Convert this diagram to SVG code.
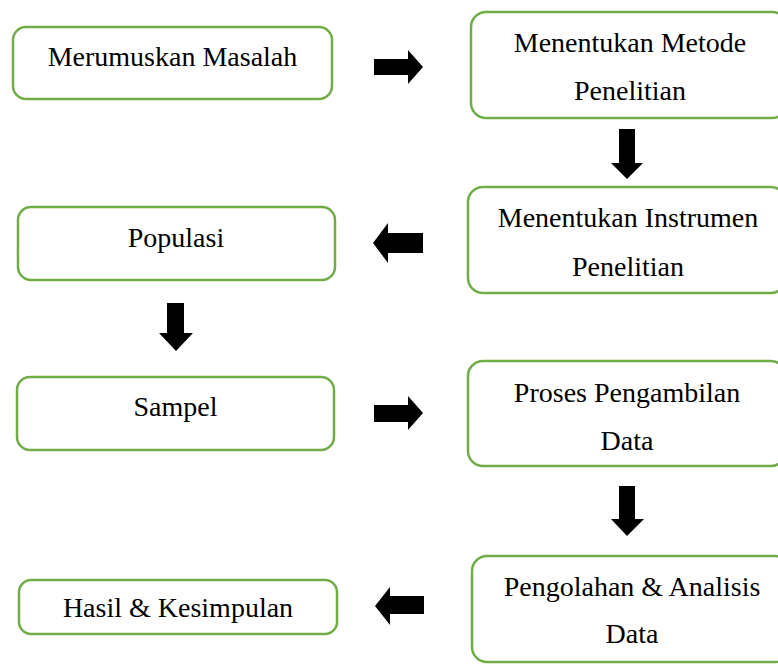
<svg xmlns="http://www.w3.org/2000/svg" width="778" height="664" viewBox="0 0 778 664">
<style>
.box{fill:#ffffff;stroke:#70ad47;stroke-width:2.5}
.t{font-size:28px;fill:#000000;text-anchor:middle}
.arr{fill:#000000}
</style>
<rect width="778" height="664" fill="#ffffff"/>
<g id="n1"><rect class="box" x="13" y="27" width="319" height="72" rx="13"/><text class="t" style="font-family:'Liberation Serif',serif" x="172.5" y="66">Merumuskan Masalah</text></g>
<g id="n2"><rect class="box" x="471" y="12" width="316" height="106" rx="15"/><text class="t" style="font-family:'Liberation Serif',serif" x="630" y="52">Menentukan Metode</text><text class="t" style="font-family:'Liberation Serif',serif" x="630" y="100">Penelitian</text></g>
<g id="n3"><rect class="box" x="468" y="187" width="318" height="106" rx="15"/><text class="t" style="font-family:'Liberation Serif',serif" x="628" y="227">Menentukan Instrumen</text><text class="t" style="font-family:'Liberation Serif',serif" x="628" y="276">Penelitian</text></g>
<g id="n4"><rect class="box" x="18" y="207" width="317" height="73" rx="13"/><text class="t" style="font-family:'Liberation Serif',serif" x="176" y="247">Populasi</text></g>
<g id="n5"><rect class="box" x="17" y="377" width="317" height="73" rx="13"/><text class="t" style="font-family:'Liberation Serif',serif" x="175.5" y="416">Sampel</text></g>
<g id="n6"><rect class="box" x="468" y="361" width="318" height="105" rx="15"/><text class="t" style="font-family:'Liberation Serif',serif" x="627" y="402">Proses Pengambilan</text><text class="t" style="font-family:'Liberation Serif',serif" x="627" y="450">Data</text></g>
<g id="n7"><rect class="box" x="472" y="556" width="318" height="106" rx="15"/><text class="t" style="font-family:'Liberation Serif',serif" x="632" y="596">Pengolahan &amp; Analisis</text><text class="t" style="font-family:'Liberation Serif',serif" x="632" y="643">Data</text></g>
<g id="n8"><rect class="box" x="19" y="580" width="318" height="54" rx="12"/><text class="t" style="font-family:'Liberation Serif',serif" x="178" y="617">Hasil &amp; Kesimpulan</text></g>
<g id="connectors">
<path class="arr" d="M374,59 H408 V50 L423,67 L408,84 V75 H374 Z"/>
<path class="arr" d="M619,129 H635 V163 H643 L627,179 L611,163 H619 Z"/>
<path class="arr" d="M423,233 H388 V223 L373,243 L388,263 V253 H423 Z"/>
<path class="arr" d="M167,303 H184 V333 H193 L176,351 L159,333 H167 Z"/>
<path class="arr" d="M374,405 H408 V396 L423,413 L408,430 V422 H374 Z"/>
<path class="arr" d="M619,486 H635 V519 H644 L627,536 L611,519 H619 Z"/>
<path class="arr" d="M424,596 H390 V587 L375,606 L390,625 V614 H424 Z"/>
</g>
</svg>
